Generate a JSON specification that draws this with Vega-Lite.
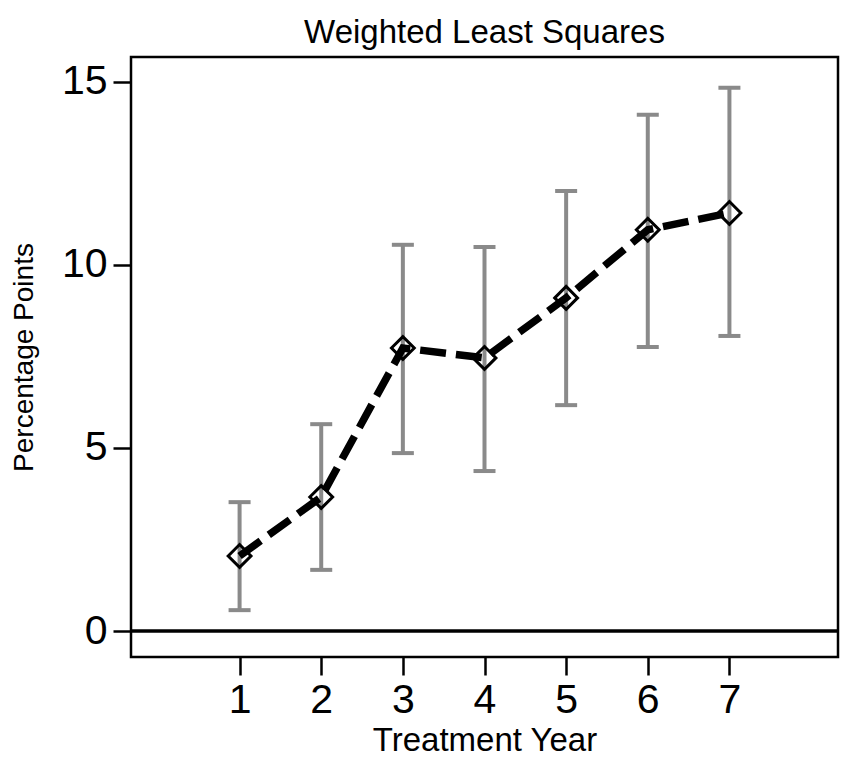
{
  "$schema": "https://vega.github.io/schema/vega-lite/v6.json",
  "autosize": {"type": "none"},
  "padding": {"left": 131, "top": 57, "right": 25, "bottom": 118},
  "width": 707,
  "height": 600,
  "background": "white",
  "title": {
    "text": "Weighted Least Squares",
    "font": "Liberation Sans",
    "fontSize": 33,
    "fontWeight": "normal",
    "color": "black",
    "anchor": "middle",
    "offset": 7
  },
  "config": {
    "view": {"stroke": "black", "strokeWidth": 2.5},
    "axis": {
      "domain": false,
      "grid": false,
      "tickColor": "black",
      "tickWidth": 2.5,
      "tickSize": 18,
      "labelFont": "Liberation Sans",
      "labelFontSize": 41,
      "labelColor": "black",
      "titleFont": "Liberation Sans",
      "titleFontWeight": "normal",
      "titleColor": "black"
    }
  },
  "data": {
    "values": [
      {"year": 1, "est": 2.05, "lo": 0.57, "hi": 3.52},
      {"year": 2, "est": 3.66, "lo": 1.67, "hi": 5.65},
      {"year": 3, "est": 7.73, "lo": 4.86, "hi": 10.55},
      {"year": 4, "est": 7.46, "lo": 4.37, "hi": 10.49},
      {"year": 5, "est": 9.10, "lo": 6.17, "hi": 12.02},
      {"year": 6, "est": 10.96, "lo": 7.76, "hi": 14.10},
      {"year": 7, "est": 11.42, "lo": 8.06, "hi": 14.84}
    ]
  },
  "encoding": {
    "x": {
      "field": "year",
      "type": "quantitative",
      "scale": {"domain": [-0.33, 8.33], "nice": false, "zero": false},
      "axis": {"values": [1, 2, 3, 4, 5, 6, 7], "title": "Treatment Year", "titleFontSize": 33, "labelPadding": 5, "titlePadding": 4}
    }
  },
  "layer": [
    {
      "data": {"values": [{"z": 0}]},
      "mark": {"type": "rule", "color": "black", "strokeWidth": 3.5},
      "encoding": {
        "x": null,
        "y": {"field": "z", "type": "quantitative"}
      }
    },
    {
      "mark": {"type": "rule", "color": "#8a8a8a", "strokeWidth": 4},
      "encoding": {
        "y": {
          "field": "lo",
          "type": "quantitative",
          "scale": {"domain": [-0.71, 15.68], "nice": false, "zero": false},
          "axis": {"values": [0, 5, 10, 15], "title": "Percentage Points", "titleFontSize": 28, "labelPadding": 6, "titlePadding": 23}
        },
        "y2": {"field": "hi"}
      }
    },
    {
      "mark": {"type": "tick", "orient": "horizontal", "color": "#8a8a8a", "size": 22, "thickness": 4, "opacity": 1},
      "encoding": {"y": {"field": "lo", "type": "quantitative"}}
    },
    {
      "mark": {"type": "tick", "orient": "horizontal", "color": "#8a8a8a", "size": 22, "thickness": 4, "opacity": 1},
      "encoding": {"y": {"field": "hi", "type": "quantitative"}}
    },
    {
      "mark": {"type": "line", "color": "black", "strokeWidth": 7.5, "strokeDash": [26, 10], "strokeCap": "butt"},
      "encoding": {"y": {"field": "est", "type": "quantitative"}}
    },
    {
      "mark": {"type": "point", "shape": "diamond", "size": 520, "filled": false, "stroke": "black", "strokeWidth": 3, "opacity": 1},
      "encoding": {"y": {"field": "est", "type": "quantitative"}}
    }
  ]
}
